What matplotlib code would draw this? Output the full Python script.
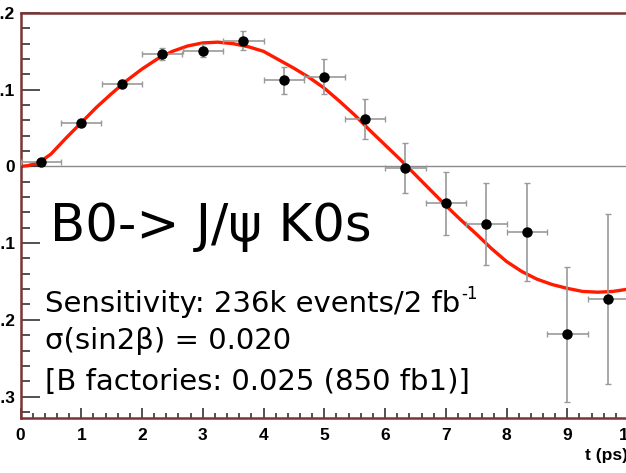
import numpy as np
import matplotlib
matplotlib.use("Agg")
import matplotlib.pyplot as plt
from matplotlib.ticker import MultipleLocator

# binned asymmetry vs decay time
t_bin = [0.333, 1.0, 1.667, 2.333, 3.0, 3.667, 4.333, 5.0, 5.667, 6.333, 7.0, 7.667, 8.333, 9.0, 9.667]
t_half = 0.333
asym = [0.006, 0.057, 0.108, 0.147, 0.151, 0.164, 0.112, 0.117, 0.062, -0.002, -0.048, -0.075, -0.085, -0.219, -0.173]
asym_err = [0.004, 0.004, 0.005, 0.008, 0.009, 0.012, 0.017, 0.023, 0.026, 0.033, 0.041, 0.053, 0.064, 0.088, 0.111]

# fitted curve
t_fit = [0.0, 0.125, 0.25, 0.375, 0.5, 0.75, 1.0, 1.25, 1.5, 1.75, 2.0, 2.25, 2.5, 2.75, 3.0, 3.25, 3.5, 3.75, 4.0,
         4.25, 4.5, 4.75, 5.0, 5.25, 5.5, 5.75, 6.0, 6.25, 6.5, 6.75, 7.0, 7.25, 7.5, 7.75, 8.0,
         8.25, 8.5, 8.75, 9.0, 9.25, 9.5, 9.75, 10.0]
a_fit = [0.000, 0.001, 0.004, 0.009, 0.016, 0.037, 0.057, 0.077, 0.095, 0.112, 0.127, 0.140, 0.150, 0.157, 0.161,
         0.162, 0.160, 0.156, 0.150, 0.139, 0.128, 0.116, 0.102, 0.085, 0.067, 0.047, 0.028, 0.009,
         -0.011, -0.031, -0.051, -0.070, -0.088, -0.107, -0.124, -0.137, -0.147, -0.154, -0.159,
         -0.163, -0.164, -0.163, -0.160]

W, H = 626, 473
fig = plt.figure(figsize=(W / 100, H / 100), dpi=100)
ax = fig.add_axes([20.5 / W, 55 / H, 607.6 / W, 405 / H])

ax.axhline(0, color="#8a8a8a", lw=1.0, zorder=1)
ax.plot(t_fit, a_fit, color="#ff1a00", lw=2.4, zorder=2)
ax.errorbar(t_bin, asym, xerr=t_half, yerr=asym_err, fmt="o", color="black", ms=6.5,
            ecolor="#9a9a9a", elinewidth=1.2, capsize=2, capthick=1.0, zorder=3)

ax.set_xlim(0, 10)
ax.set_ylim(-0.328, 0.2)
ax.xaxis.set_major_locator(MultipleLocator(1))
ax.xaxis.set_minor_locator(MultipleLocator(0.2))
ax.yaxis.set_major_locator(MultipleLocator(0.1))
ax.yaxis.set_minor_locator(MultipleLocator(0.02))
ax.yaxis.set_major_formatter(lambda v, p: "0" if abs(v) < 1e-9 else "%.1f" % v)
ax.tick_params(axis="both", which="both", direction="in", color="#333333", width=1.2,
               labelsize=12.5)
ax.tick_params(axis="y", which="major", length=13.5, pad=4)
ax.tick_params(axis="y", which="minor", length=6.5)
ax.tick_params(axis="x", which="major", length=7, pad=7)
ax.tick_params(axis="x", which="minor", length=3.6)
for lab in ax.get_xticklabels() + ax.get_yticklabels():
    lab.set_fontweight("bold")
    lab.set_family("Liberation Sans")
for s in ax.spines.values():
    s.set_color("#7a3434")
    s.set_linewidth(1.8)

fig.text(628 / W, 1 - 455 / H, "t (ps)", ha="right", va="center", fontsize=12.5,
         fontweight="bold", family="Liberation Sans")

fig.text(50 / W, 1 - 241 / H, "B0-> J/\u03c8 K0s", fontsize=37, va="baseline",
         family="DejaVu Sans")
sens = fig.text(45 / W, 1 - 311.5 / H, "Sensitivity: 236k events/2 fb", fontsize=21,
                va="baseline", family="DejaVu Sans")
# small raised "-1" after "fb"
fig.canvas.draw()
x_end = sens.get_window_extent().x1
fig.text(x_end / W + 1 / W, 1 - 299 / H, "-1", fontsize=12, va="baseline",
         family="DejaVu Sans")
fig.text(45 / W, 1 - 349 / H, "\u03c3(sin2\u03b2) = 0.020", fontsize=21,
         va="baseline", family="DejaVu Sans")
fig.text(45 / W, 1 - 390 / H, "[B factories: 0.025 (850 fb1)]", fontsize=21,
         va="baseline", family="DejaVu Sans")

fig.savefig("out.png", dpi=100)
